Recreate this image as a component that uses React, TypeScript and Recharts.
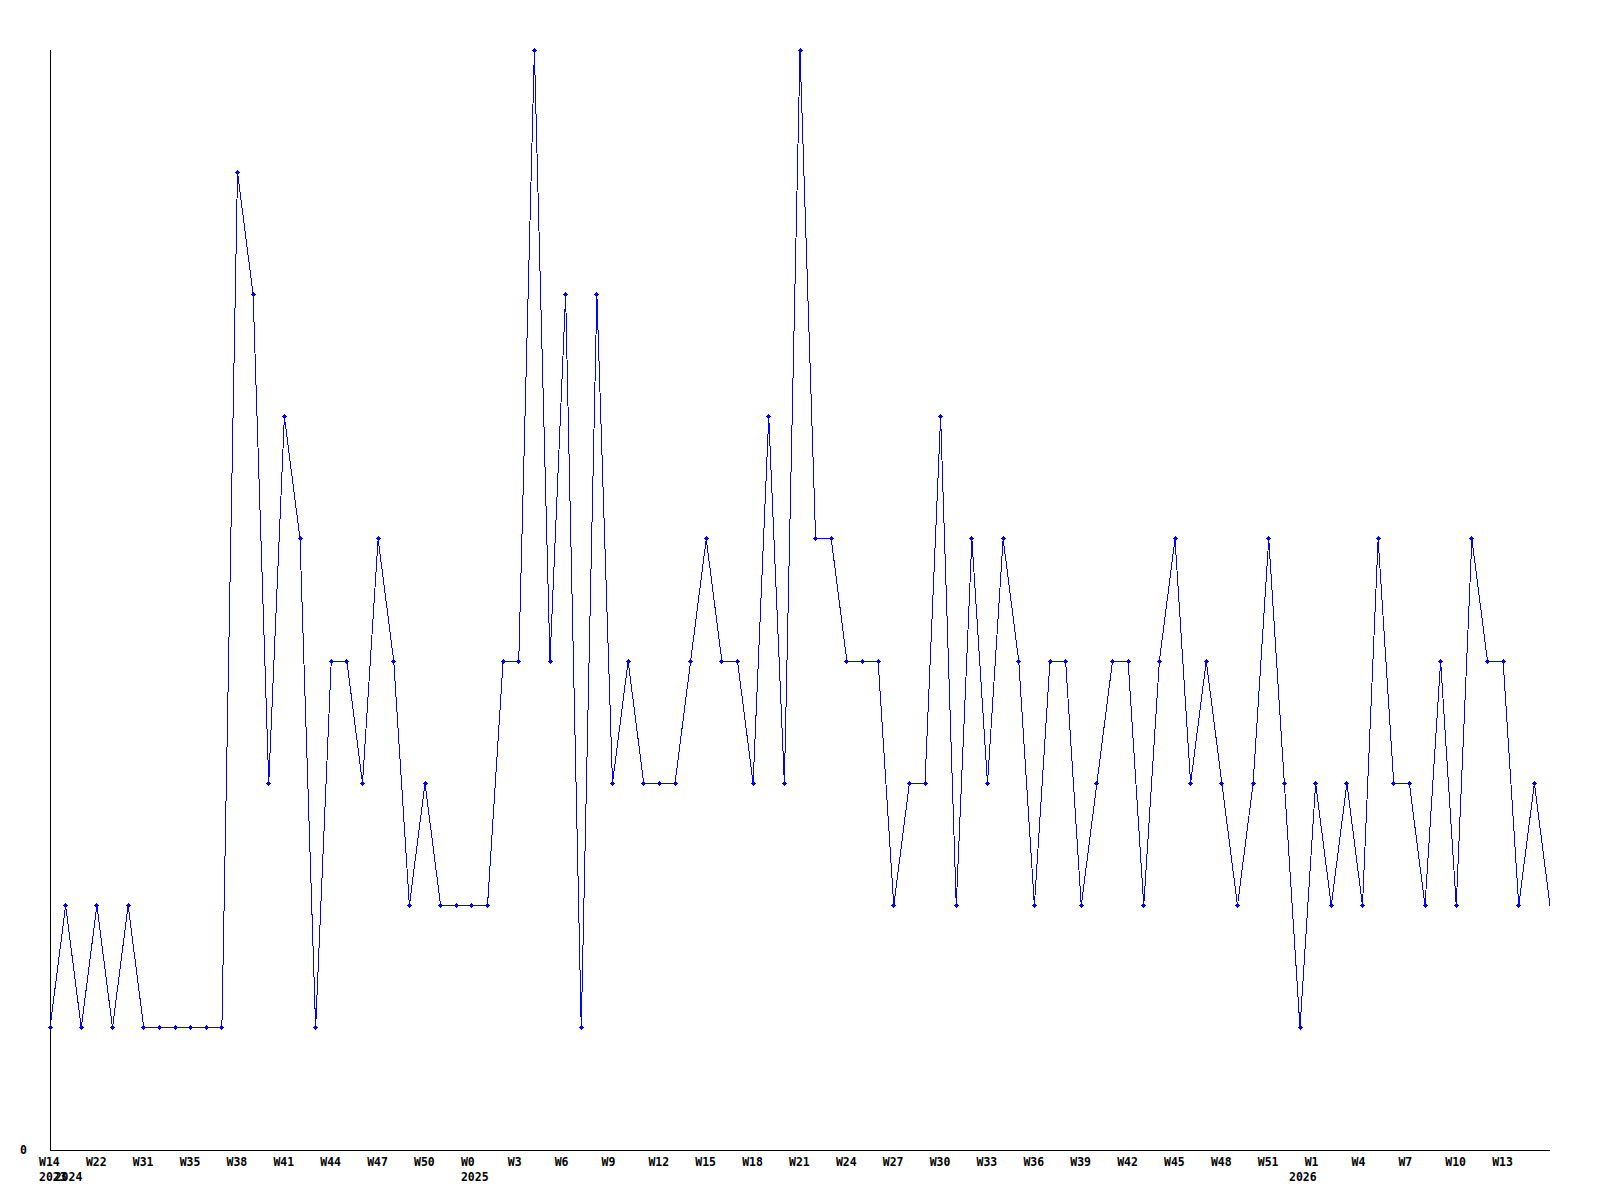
import { LineChart, Line, XAxis, YAxis } from "recharts";

// week number of each point
const weeks = [
  14, 16, 19, 22, 25, 28, 31, 32, 34, 35, 36, 37, 38, 39, 40, 41, 42, 43, 44, 45,
  46, 47, 48, 49, 50, 51, 52, 0, 1, 2, 3, 4, 5, 6, 7, 8, 9, 10, 11, 12,
  13, 14, 15, 16, 17, 18, 19, 20, 21, 22, 23, 24, 25, 26, 27, 28, 29, 30, 31, 32,
  33, 34, 35, 36, 37, 38, 39, 40, 41, 42, 43, 44, 45, 46, 47, 48, 49, 50, 51, 52,
  0, 1, 2, 3, 4, 5, 6, 7, 8, 9, 10, 11, 12, 13, 14, 15, 16,
];

// year of each point
const years = [
  2023, 2024, 2024, 2024, 2024, 2024, 2024, 2024, 2024, 2024, 2024, 2024, 2024, 2024, 2024, 2024, 2024, 2024, 2024, 2024,
  2024, 2024, 2024, 2024, 2024, 2024, 2024, 2025, 2025, 2025, 2025, 2025, 2025, 2025, 2025, 2025, 2025, 2025, 2025, 2025,
  2025, 2025, 2025, 2025, 2025, 2025, 2025, 2025, 2025, 2025, 2025, 2025, 2025, 2025, 2025, 2025, 2025, 2025, 2025, 2025,
  2025, 2025, 2025, 2025, 2025, 2025, 2025, 2025, 2025, 2025, 2025, 2025, 2025, 2025, 2025, 2025, 2025, 2025, 2025, 2025,
  2026, 2026, 2026, 2026, 2026, 2026, 2026, 2026, 2026, 2026, 2026, 2026, 2026, 2026, 2026, 2026, 2026,
];

const counts = [
  1, 2, 1, 2, 1, 2, 1, 1, 1, 1, 1, 1, 8, 7, 3, 6, 5, 1, 4, 4,
  3, 5, 4, 2, 3, 2, 2, 2, 2, 4, 4, 9, 4, 7, 1, 7, 3, 4, 3, 3,
  3, 4, 5, 4, 4, 3, 6, 3, 9, 5, 5, 4, 4, 4, 2, 3, 3, 6, 2, 5,
  3, 5, 4, 2, 4, 4, 2, 3, 4, 4, 2, 4, 5, 3, 4, 3, 2, 3, 5, 3,
  1, 3, 2, 3, 2, 5, 3, 3, 2, 4, 2, 5, 4, 4, 2, 3, 2,
];

const yTicks = [0];
const labelEvery = 3;

const data = counts.map((count, i) => ({
  key: `${years[i]}-W${weeks[i]}`,
  week: weeks[i],
  year: years[i],
  count,
}));

const FONT = "'DejaVu Sans Mono', monospace";

function WeekTick(props: any) {
  const { x, payload } = props;
  const i = payload.index;
  const d = data[i];
  const showWeek = i % labelEvery === 0 && i < data.length - 3;
  const showYear = i === 0 || years[i] !== years[i - 1];
  return (
    <g>
      {showWeek && (
        <text x={x - 11} y={1166} fontFamily={FONT} fontWeight="bold" fontSize={11.5} fill="#000">
          {`W${d.week}`}
        </text>
      )}
      {showYear && (
        <text x={x - 11} y={1181} fontFamily={FONT} fontWeight="bold" fontSize={11.5} fill="#000">
          {d.year}
        </text>
      )}
    </g>
  );
}

function ZeroTick(props: any) {
  const { y, payload } = props;
  return (
    <text x={20} y={y + 4} fontFamily={FONT} fontWeight="bold" fontSize={11.5} fill="#000">
      {payload.value}
    </text>
  );
}

function Marker(props: any) {
  const { cx, cy, index } = props;
  if (index === data.length - 1 || cx == null) return <g key={index} />;
  return (
    <g key={index} fill="#0000ff" shapeRendering="crispEdges">
      <rect x={cx - 2.5} y={cy - 0.5} width={5} height={1} />
      <rect x={cx - 0.5} y={cy - 2.5} width={1} height={5} />
      <rect x={cx - 1.5} y={cy - 1.5} width={3} height={3} />
    </g>
  );
}

export default function App() {
  return (
    <div style={{ position: "absolute", left: 0, top: 0, background: "#fff" }}>
      <LineChart width={1600} height={1200} data={data} margin={{ top: 50, right: 50, bottom: 0, left: 0 }}>
        <XAxis
          dataKey="key"
          interval={0}
          height={50}
          tickLine={false}
          axisLine={{ stroke: "#000", shapeRendering: "crispEdges" }}
          tick={<WeekTick />}
        />
        <YAxis
          width={50}
          domain={[0, 9]}
          ticks={yTicks}
          tickLine={false}
          axisLine={{ stroke: "#000", shapeRendering: "crispEdges" }}
          tick={<ZeroTick />}
        />
        <Line
          type="linear"
          dataKey="count"
          stroke="#0000ff"
          strokeWidth={1}
          shapeRendering="crispEdges"
          dot={<Marker />}
          activeDot={false}
          isAnimationActive={false}
        />
      </LineChart>
    </div>
  );
}
